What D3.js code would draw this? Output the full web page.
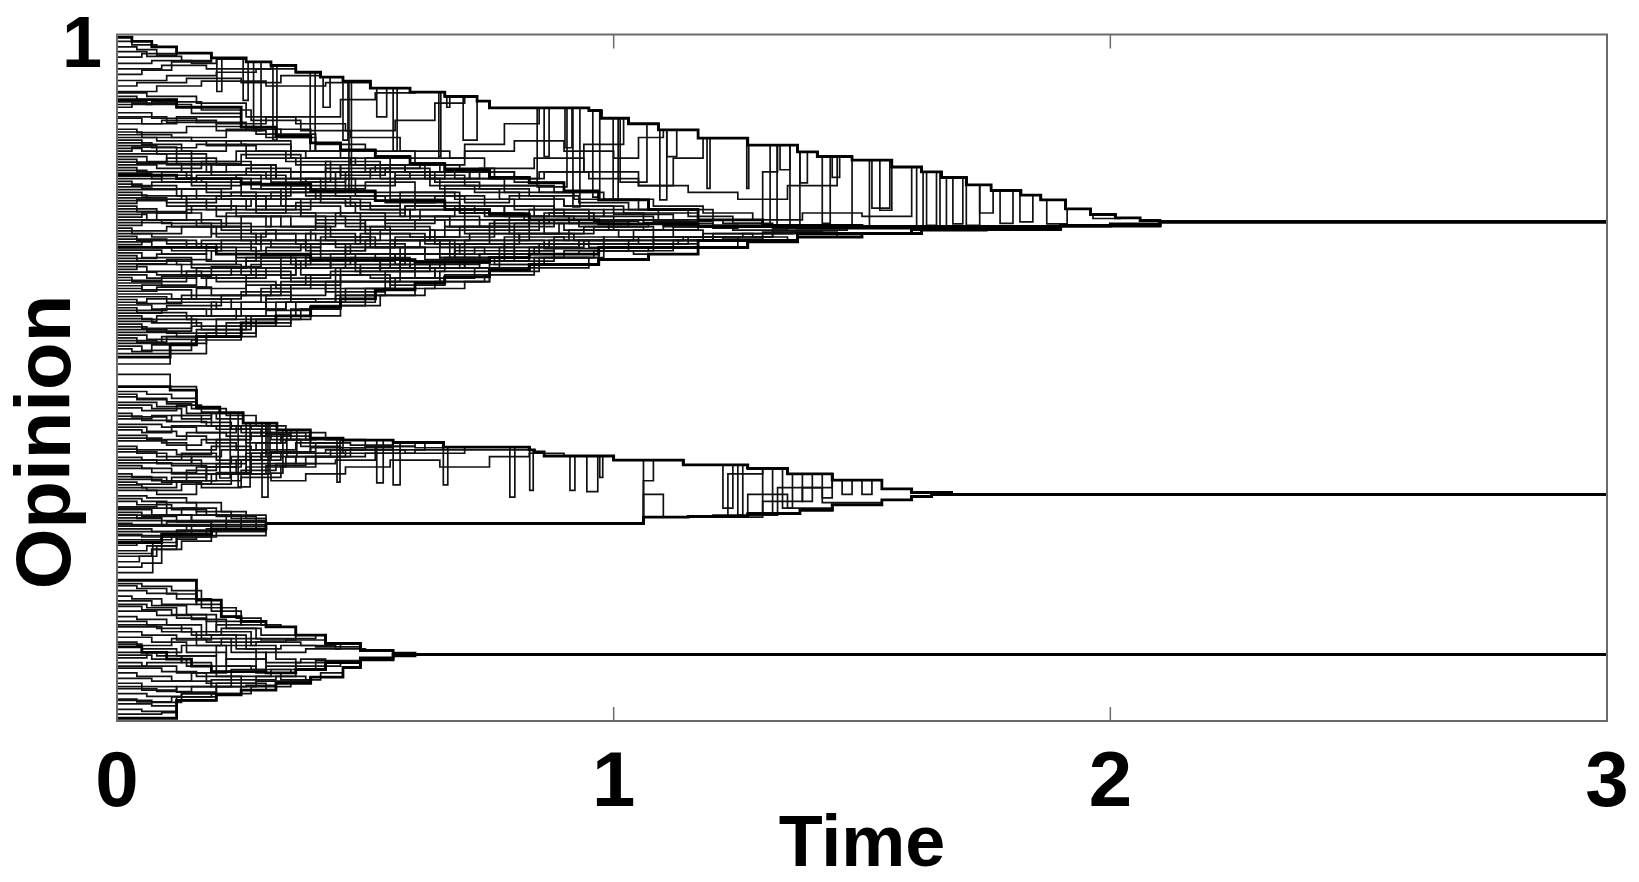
<!DOCTYPE html>
<html><head><meta charset="utf-8">
<script src="https://cdn.jsdelivr.net/npm/d3@7"></script>
<style>body{margin:0;background:#fff}</style>
</head><body><svg id="c" width="1639" height="882"></svg>
<script>
// ---------------- data ----------------
const xTicks=[0,1,2,3];
const xTickLabels=["0","1","2","3"];
const yTickValues=[1];
const yTickLabels=["1"];
const xTitle="Time", yTitle="Opinion";

// cluster backbone trajectories [time, opinion] (step functions)
const B1=[[0,0.996],[0.03,0.99],[0.07,0.982],[0.12,0.973],[0.19,0.966],[0.26,0.96],[0.31,0.955],[0.36,0.945],[0.41,0.938],[0.455,0.932],[0.51,0.922],[0.59,0.916],[0.66,0.91],[0.725,0.903],[0.75,0.893],[0.95,0.889],[0.975,0.878],[1.03,0.87],[1.09,0.861],[1.17,0.849],[1.27,0.839],[1.37,0.829],[1.41,0.822],[1.48,0.817],[1.56,0.807],[1.62,0.8],[1.66,0.792],[1.71,0.781],[1.76,0.773],[1.82,0.766],[1.86,0.759],[1.91,0.746],[1.96,0.738],[2.01,0.733],[2.06,0.729],[2.1,0.727]];
const B2=[[0,0.905],[0.12,0.894],[0.25,0.865],[0.32,0.852],[0.39,0.842],[0.45,0.832],[0.52,0.822],[0.59,0.812],[0.66,0.803],[0.75,0.792],[0.83,0.784],[0.9,0.772],[0.97,0.759],[1.07,0.745],[1.17,0.73],[1.3,0.722],[1.5,0.72],[1.9,0.722],[2.1,0.727]];
const T3=[[0,0.53],[0.107,0.548],[0.16,0.56],[0.25,0.58],[0.32,0.59],[0.39,0.603],[0.45,0.615],[0.52,0.628],[0.6,0.638],[0.66,0.647],[0.75,0.657],[0.83,0.665],[0.97,0.672],[1.07,0.68],[1.17,0.69],[1.27,0.698],[1.37,0.705],[1.5,0.71],[1.62,0.715],[1.75,0.718],[1.9,0.721],[2.0,0.724],[2.1,0.727]];
const T4=[[0,0.795],[0.12,0.79],[0.25,0.782],[0.39,0.772],[0.52,0.758],[0.66,0.745],[0.75,0.738],[0.83,0.73],[0.97,0.724],[1.17,0.72],[1.37,0.718],[1.6,0.719],[1.9,0.722],[2.1,0.727]];
const T5=[[0,0.69],[0.2,0.68],[0.39,0.672],[0.6,0.668],[0.75,0.675],[0.83,0.68],[0.97,0.69],[1.17,0.7],[1.37,0.71],[1.6,0.716],[1.9,0.721],[2.1,0.727]];
const M1=[[0,0.487],[0.107,0.482],[0.16,0.457],[0.207,0.449],[0.254,0.434],[0.322,0.424],[0.389,0.412],[0.455,0.409],[0.556,0.406],[0.657,0.399],[0.83,0.395],[0.84,0.392],[0.86,0.386],[1.0,0.38],[1.14,0.373],[1.27,0.368],[1.35,0.36],[1.44,0.351],[1.54,0.338],[1.6,0.333],[1.68,0.33]];
const M2=[[0,0.26],[0.09,0.272],[0.19,0.28],[0.3,0.288],[1.06,0.297],[1.15,0.298],[1.27,0.302],[1.375,0.307],[1.44,0.315],[1.54,0.322],[1.6,0.327],[1.64,0.33]];
const L1=[[0,0.205],[0.147,0.205],[0.16,0.176],[0.21,0.152],[0.25,0.145],[0.3,0.137],[0.36,0.125],[0.42,0.113],[0.49,0.103],[0.556,0.099],[0.6,0.097]];
const L2=[[0,0.004],[0.113,0.004],[0.12,0.03],[0.2,0.038],[0.25,0.045],[0.32,0.055],[0.39,0.064],[0.455,0.078],[0.49,0.089],[0.556,0.095],[0.6,0.097]];
const L3=[[0,0.108],[0.05,0.1],[0.1,0.09],[0.15,0.08],[0.19,0.072],[0.3,0.07],[0.36,0.075],[0.42,0.085],[0.49,0.092],[0.556,0.097]];

// agents: [backbone joined, join time, start opinion, t1, x1, t2, x2, ...]
const topAgents=[
["B1",0.08,0.99,0.03,0.985],
["B1",0.12,0.982,0.04,0.978,0.08,0.97],
["B1",0.19,0.975,0.06,0.968,0.13,0.962],
["B1",0.12,0.967,0.05,0.972],
["B1",0.26,0.958,0.07,0.962,0.15,0.958,0.2,0.964],
["B1",0.31,0.95,0.09,0.955,0.18,0.95],
["B1",0.19,0.942,0.05,0.948,0.11,0.96],
["B1",0.36,0.933,0.1,0.94,0.2,0.945,0.28,0.95],
["B1",0.41,0.925,0.04,0.93,0.14,0.936,0.25,0.93,0.33,0.94],
["B1",0.51,0.917,0.08,0.925,0.17,0.932,0.3,0.925,0.42,0.93],
["B1",0.7,0.915,0.06,0.91,0.16,0.9,0.26,0.88,0.36,0.87,0.46,0.86,0.56,0.875,0.64,0.9],
["B2",0.12,0.91,0.04,0.905,0.08,0.9],
["B2",0.25,0.902,0.06,0.898,0.15,0.885],
["B2",0.8,0.898,0.07,0.902,0.17,0.89,0.27,0.875,0.37,0.86,0.47,0.85,0.57,0.83,0.67,0.82,0.74,0.8],
["B2",0.1,0.894,0.03,0.9],
["B2",0.39,0.886,0.07,0.878,0.16,0.872,0.26,0.862,0.33,0.85],
["B1",1.1,0.88,0.1,0.872,0.2,0.86,0.3,0.85,0.4,0.84,0.5,0.83,0.6,0.82,0.7,0.83,0.8,0.845,0.9,0.83,1.0,0.82,1.05,0.85],
["B2",0.25,0.878,0.05,0.87,0.12,0.88],
["B1",0.6,0.87,0.09,0.875,0.2,0.87,0.3,0.88,0.45,0.905,0.52,0.915],
["B2",0.52,0.862,0.04,0.857,0.14,0.866,0.28,0.855,0.4,0.83],
["B1",1.45,0.858,0.05,0.85,0.15,0.845,0.25,0.84,0.35,0.83,0.45,0.82,0.55,0.81,0.65,0.8,0.75,0.79,0.85,0.8,0.95,0.79,1.05,0.78,1.15,0.77,1.25,0.76,1.35,0.78],
["B2",0.39,0.854,0.11,0.85,0.22,0.862],
["B1",1.6,0.85,0.08,0.845,0.18,0.838,0.28,0.83,0.38,0.82,0.48,0.81,0.58,0.8,0.68,0.79,0.78,0.78,0.88,0.77,0.98,0.76,1.08,0.75,1.18,0.74,1.28,0.73,1.38,0.74,1.5,0.735],
["B2",0.66,0.846,0.05,0.84,0.13,0.83,0.22,0.845,0.35,0.82,0.47,0.81,0.58,0.8],
["T4",1.12,0.842,0.07,0.835,0.16,0.84,0.26,0.82,0.36,0.81,0.45,0.795,0.54,0.805,0.63,0.78,0.72,0.77,0.81,0.76,0.9,0.75,1.0,0.738],
["T4",1.0,0.838,0.08,0.826,0.18,0.8,0.3,0.79,0.42,0.805,0.55,0.77,0.68,0.76,0.8,0.745,0.9,0.735],
["B2",0.9,0.834,0.05,0.83,0.15,0.815,0.24,0.83,0.34,0.815,0.43,0.8,0.52,0.81,0.62,0.79,0.71,0.8,0.8,0.785],
["B1",0.85,0.83,0.03,0.836,0.12,0.812,0.25,0.825,0.37,0.8,0.5,0.82,0.6,0.81,0.7,0.84,0.78,0.87],
["T5",1.22,0.826,0.1,0.81,0.19,0.795,0.29,0.78,0.38,0.765,0.47,0.75,0.57,0.735,0.67,0.72,0.76,0.73,0.86,0.71,0.96,0.72,1.08,0.705],
["T4",0.83,0.822,0.06,0.815,0.15,0.79,0.27,0.775,0.38,0.79,0.48,0.765,0.6,0.75,0.72,0.74],
["T4",1.3,0.818,0.04,0.812,0.13,0.8,0.22,0.81,0.32,0.79,0.41,0.775,0.5,0.785,0.6,0.765,0.7,0.755,0.79,0.765,0.88,0.745,0.98,0.735,1.08,0.728,1.2,0.722],
["B2",0.97,0.814,0.1,0.82,0.2,0.81,0.32,0.8,0.44,0.78,0.56,0.795,0.7,0.78,0.85,0.77],
["B1",1.02,0.81,0.08,0.805,0.17,0.815,0.27,0.8,0.37,0.785,0.46,0.8,0.56,0.79,0.66,0.805,0.76,0.79,0.86,0.8,0.94,0.84],
["T4",1.17,0.806,0.04,0.8,0.14,0.79,0.24,0.795,0.34,0.76,0.46,0.75,0.57,0.77,0.69,0.74,0.82,0.73,0.95,0.74,1.06,0.726],
["T4",0.92,0.802,0.06,0.795,0.15,0.78,0.25,0.765,0.35,0.78,0.44,0.765,0.54,0.755,0.64,0.765,0.74,0.75,0.84,0.735],
["T4",0.52,0.798,0.07,0.79,0.17,0.785,0.29,0.775,0.4,0.76],
["T3",1.25,0.794,0.09,0.785,0.18,0.77,0.28,0.75,0.37,0.735,0.46,0.72,0.55,0.7,0.65,0.69,0.74,0.68,0.84,0.69,0.94,0.7,1.05,0.695,1.15,0.705],
["B2",1.17,0.79,0.09,0.8,0.19,0.81,0.31,0.785,0.43,0.8,0.53,0.79,0.65,0.775,0.77,0.76,0.9,0.75,1.02,0.74],
["T4",1.4,0.786,0.03,0.78,0.12,0.775,0.21,0.76,0.31,0.77,0.41,0.755,0.51,0.745,0.6,0.755,0.69,0.74,0.78,0.75,0.88,0.735,0.98,0.745,1.09,0.73,1.22,0.725,1.32,0.718],
["T5",0.97,0.782,0.05,0.775,0.16,0.76,0.28,0.74,0.4,0.725,0.5,0.71,0.62,0.695,0.75,0.7,0.86,0.688],
["B2",1.3,0.778,0.07,0.785,0.16,0.795,0.26,0.805,0.35,0.79,0.45,0.81,0.55,0.8,0.64,0.785,0.73,0.775,0.83,0.765,0.93,0.755,1.03,0.745,1.15,0.735,1.24,0.725],
["T4",1.37,0.774,0.12,0.765,0.23,0.77,0.33,0.75,0.45,0.735,0.58,0.75,0.7,0.73,0.83,0.745,0.95,0.73,1.1,0.722,1.25,0.72],
["T5",0.88,0.77,0.05,0.765,0.14,0.75,0.24,0.735,0.33,0.72,0.43,0.705,0.52,0.69,0.62,0.68,0.72,0.69,0.8,0.68],
["B1",1.33,0.766,0.06,0.76,0.18,0.745,0.3,0.76,0.41,0.77,0.55,0.76,0.66,0.78,0.78,0.77,0.92,0.76,1.05,0.745,1.2,0.73,1.3,0.8],
["T4",1.05,0.762,0.1,0.755,0.2,0.765,0.3,0.745,0.39,0.76,0.49,0.745,0.59,0.735,0.68,0.75,0.78,0.735,0.87,0.74,0.96,0.728],
["T3",1.37,0.758,0.1,0.75,0.2,0.735,0.3,0.72,0.42,0.7,0.53,0.715,0.64,0.695,0.78,0.705,0.9,0.7,1.05,0.705,1.2,0.71],
["B1",1.18,0.754,0.04,0.76,0.13,0.775,0.23,0.79,0.32,0.8,0.42,0.815,0.53,0.8,0.63,0.79,0.73,0.805,0.84,0.82,0.94,0.8,1.05,0.78,1.12,0.82],
["T4",0.66,0.75,0.04,0.742,0.14,0.76,0.26,0.745,0.36,0.755,0.48,0.74,0.58,0.75],
["T3",1.1,0.746,0.08,0.74,0.17,0.725,0.27,0.71,0.36,0.695,0.46,0.68,0.56,0.665,0.66,0.675,0.76,0.665,0.86,0.675,0.97,0.685,1.04,0.68],
["T5",1.17,0.742,0.08,0.73,0.21,0.715,0.32,0.7,0.44,0.69,0.56,0.7,0.68,0.68,0.8,0.69,0.93,0.7,1.08,0.695],
["T4",1.2,0.738,0.06,0.73,0.16,0.72,0.25,0.735,0.35,0.72,0.44,0.74,0.54,0.725,0.64,0.735,0.73,0.72,0.83,0.73,0.93,0.72,1.03,0.73,1.12,0.72],
["T4",0.97,0.734,0.05,0.74,0.15,0.75,0.27,0.76,0.37,0.74,0.49,0.73,0.61,0.745,0.74,0.735,0.86,0.725],
["T5",1.35,0.73,0.09,0.725,0.19,0.71,0.28,0.695,0.38,0.71,0.48,0.695,0.58,0.68,0.68,0.695,0.78,0.685,0.88,0.695,0.98,0.705,1.08,0.7,1.18,0.71,1.28,0.705],
["B2",0.83,0.726,0.11,0.72,0.22,0.74,0.34,0.77,0.46,0.79,0.59,0.8,0.71,0.79],
["B2",0.75,0.722,0.05,0.73,0.14,0.745,0.23,0.76,0.33,0.775,0.42,0.79,0.51,0.805,0.61,0.81,0.69,0.8],
["T5",0.75,0.718,0.03,0.71,0.13,0.72,0.25,0.7,0.38,0.685,0.5,0.69,0.62,0.672],
["T4",1.15,0.714,0.1,0.72,0.2,0.705,0.3,0.715,0.4,0.73,0.5,0.715,0.6,0.73,0.7,0.71,0.8,0.725,0.9,0.715,1.0,0.73,1.1,0.72],
["T4",1.27,0.71,0.07,0.705,0.19,0.72,0.31,0.735,0.42,0.715,0.54,0.73,0.66,0.72,0.79,0.735,0.91,0.725,1.03,0.73,1.15,0.72],
["T3",1.45,0.706,0.04,0.7,0.14,0.69,0.24,0.675,0.33,0.66,0.43,0.67,0.53,0.655,0.63,0.665,0.73,0.68,0.83,0.69,0.93,0.695,1.03,0.7,1.14,0.705,1.26,0.71,1.36,0.712],
["T3",0.97,0.702,0.1,0.695,0.2,0.68,0.3,0.69,0.41,0.67,0.53,0.66,0.65,0.675,0.77,0.67,0.88,0.68],
["T5",1.02,0.698,0.07,0.69,0.17,0.7,0.27,0.685,0.37,0.695,0.47,0.68,0.57,0.69,0.67,0.675,0.77,0.69,0.87,0.7,0.95,0.69],
["T5",0.52,0.694,0.05,0.7,0.16,0.69,0.28,0.675,0.39,0.68],
["T4",1.35,0.69,0.11,0.685,0.21,0.7,0.31,0.69,0.41,0.705,0.51,0.69,0.61,0.7,0.71,0.71,0.81,0.7,0.91,0.715,1.01,0.705,1.12,0.72,1.24,0.715],
["T4",1.07,0.686,0.09,0.68,0.18,0.695,0.29,0.71,0.4,0.7,0.51,0.72,0.63,0.705,0.76,0.72,0.88,0.73,0.99,0.72],
["T3",0.95,0.682,0.05,0.675,0.15,0.665,0.25,0.655,0.35,0.64,0.45,0.65,0.55,0.64,0.65,0.655,0.75,0.665,0.85,0.675],
["T3",1.17,0.678,0.04,0.67,0.15,0.66,0.26,0.67,0.37,0.65,0.49,0.66,0.6,0.645,0.72,0.66,0.84,0.675,0.96,0.685,1.08,0.69],
["T5",1.5,0.674,0.08,0.68,0.18,0.67,0.28,0.68,0.38,0.665,0.48,0.68,0.58,0.67,0.68,0.685,0.78,0.695,0.88,0.705,0.98,0.695,1.08,0.705,1.2,0.7,1.3,0.712,1.42,0.71],
["T5",0.83,0.67,0.12,0.665,0.24,0.68,0.35,0.665,0.47,0.675,0.59,0.66,0.7,0.67],
["T4",0.8,0.666,0.1,0.672,0.19,0.685,0.29,0.7,0.39,0.715,0.49,0.73,0.59,0.745,0.69,0.74],
["T4",1.47,0.662,0.06,0.655,0.17,0.645,0.3,0.66,0.43,0.68,0.55,0.7,0.67,0.69,0.8,0.71,0.92,0.7,1.04,0.715,1.18,0.705,1.32,0.715],
["T3",1.3,0.658,0.04,0.665,0.13,0.65,0.23,0.66,0.33,0.645,0.43,0.655,0.53,0.665,0.63,0.66,0.73,0.67,0.83,0.68,0.93,0.685,1.03,0.695,1.13,0.7,1.22,0.702],
["T3",0.66,0.654,0.08,0.65,0.2,0.64,0.32,0.63,0.45,0.64,0.55,0.635],
["T5",0.72,0.65,0.06,0.645,0.16,0.66,0.26,0.675,0.36,0.66,0.46,0.67,0.56,0.68,0.65,0.675],
["T5",1.27,0.646,0.03,0.64,0.14,0.655,0.25,0.65,0.36,0.67,0.48,0.655,0.6,0.67,0.73,0.68,0.85,0.695,0.98,0.685,1.12,0.7],
["T4",1.25,0.642,0.09,0.648,0.19,0.662,0.29,0.678,0.39,0.695,0.49,0.71,0.59,0.705,0.69,0.72,0.79,0.71,0.89,0.725,0.99,0.715,1.1,0.725,1.2,0.718],
["T3",0.83,0.638,0.09,0.632,0.19,0.62,0.31,0.635,0.42,0.625,0.54,0.64,0.66,0.65,0.75,0.66],
["T3",0.85,0.634,0.05,0.628,0.15,0.615,0.25,0.625,0.35,0.615,0.45,0.63,0.55,0.645,0.65,0.64,0.75,0.655],
["T4",0.97,0.63,0.05,0.635,0.16,0.65,0.27,0.665,0.39,0.685,0.5,0.7,0.63,0.715,0.75,0.725,0.87,0.73],
["T5",1.42,0.626,0.08,0.632,0.18,0.645,0.28,0.66,0.38,0.675,0.48,0.665,0.58,0.68,0.68,0.67,0.78,0.685,0.88,0.675,0.98,0.69,1.08,0.7,1.2,0.705,1.32,0.712],
["T3",0.52,0.622,0.11,0.615,0.23,0.6,0.34,0.61,0.45,0.62],
["T3",0.6,0.618,0.1,0.61,0.2,0.6,0.3,0.615,0.4,0.61,0.5,0.63],
["T5",1.07,0.614,0.04,0.608,0.13,0.62,0.26,0.635,0.38,0.65,0.51,0.645,0.64,0.66,0.77,0.675,0.9,0.685],
["T4",1.06,0.61,0.06,0.615,0.16,0.63,0.26,0.65,0.36,0.67,0.46,0.69,0.56,0.705,0.66,0.72,0.76,0.73,0.86,0.74,0.96,0.73],
["T3",0.39,0.606,0.07,0.6,0.18,0.59,0.3,0.598],
["T3",0.95,0.602,0.04,0.595,0.14,0.585,0.24,0.6,0.34,0.61,0.44,0.62,0.54,0.63,0.64,0.64,0.74,0.65,0.84,0.66],
["T4",1.17,0.598,0.1,0.605,0.21,0.62,0.33,0.64,0.44,0.66,0.57,0.68,0.69,0.695,0.81,0.71,0.94,0.72,1.06,0.715],
["T5",0.9,0.594,0.09,0.6,0.19,0.61,0.29,0.63,0.39,0.65,0.49,0.665,0.59,0.66,0.69,0.67,0.8,0.68],
["T3",0.75,0.59,0.05,0.585,0.16,0.575,0.27,0.59,0.39,0.605,0.5,0.62,0.62,0.63,0.7,0.64],
["T3",0.45,0.586,0.07,0.58,0.17,0.57,0.27,0.585,0.37,0.6],
["T5",0.66,0.582,0.08,0.59,0.19,0.6,0.3,0.62,0.42,0.64,0.54,0.655],
["T4",1.0,0.578,0.05,0.572,0.15,0.59,0.25,0.61,0.35,0.635,0.45,0.66,0.55,0.68,0.65,0.7,0.75,0.715,0.85,0.73,0.93,0.725],
["T3",0.25,0.574,0.06,0.568,0.15,0.575],
["T3",0.32,0.57,0.1,0.565,0.2,0.575],
["T3",0.52,0.566,0.12,0.56,0.22,0.58,0.35,0.6,0.45,0.61],
["T5",0.7,0.562,0.06,0.556,0.16,0.57,0.26,0.59,0.36,0.61,0.46,0.63,0.56,0.645,0.64,0.66],
["T3",0.19,0.558,0.04,0.552,0.1,0.56],
["T3",0.28,0.554,0.08,0.55,0.18,0.565],
["T4",0.83,0.55,0.09,0.56,0.2,0.585,0.32,0.61,0.44,0.64,0.57,0.67,0.7,0.7],
["T3",0.6,0.546,0.05,0.54,0.15,0.555,0.25,0.575,0.35,0.59,0.45,0.605,0.53,0.62],
["T3",0.12,0.542,0.03,0.538,0.07,0.548],
["T3",0.39,0.535,0.107,0.535,0.18,0.56,0.28,0.585],
["T3",0.16,0.52,0.107,0.55]
];
const midAgents=[
["M1",0.16,0.505,0.107,0.487],
["M1",0.16,0.48,0.06,0.476,0.11,0.47],
["M1",0.5,0.476,0.04,0.47,0.1,0.465,0.16,0.455,0.22,0.445,0.28,0.43,0.34,0.42,0.42,0.41],
["M1",0.207,0.472,0.04,0.468,0.1,0.462,0.15,0.455],
["M1",0.254,0.464,0.08,0.458,0.14,0.448,0.2,0.44],
["M1",0.6,0.46,0.07,0.455,0.13,0.445,0.19,0.43,0.25,0.42,0.31,0.41,0.37,0.4,0.45,0.39,0.52,0.4],
["M1",0.207,0.456,0.05,0.452,0.12,0.46,0.17,0.45],
["M1",0.322,0.448,0.03,0.443,0.1,0.436,0.18,0.43,0.25,0.425],
["M1",0.35,0.444,0.05,0.438,0.11,0.445,0.17,0.435,0.23,0.425,0.29,0.415],
["M1",0.254,0.44,0.07,0.445,0.13,0.44,0.19,0.448],
["M1",0.389,0.432,0.09,0.428,0.16,0.42,0.24,0.43,0.3,0.418,0.35,0.41],
["M1",0.7,0.428,0.06,0.422,0.12,0.415,0.18,0.405,0.24,0.395,0.3,0.385,0.36,0.375,0.44,0.38,0.52,0.39,0.6,0.395],
["M1",0.322,0.424,0.05,0.42,0.11,0.43,0.2,0.425,0.27,0.43],
["M1",0.455,0.416,0.06,0.41,0.14,0.42,0.22,0.415,0.3,0.42,0.38,0.41],
["M1",0.45,0.412,0.09,0.405,0.14,0.395,0.2,0.41,0.27,0.42,0.33,0.41,0.39,0.405],
["M1",0.389,0.408,0.1,0.402,0.17,0.41,0.26,0.405,0.33,0.415],
["M1",0.556,0.4,0.04,0.395,0.12,0.388,0.19,0.4,0.27,0.395,0.36,0.405,0.47,0.402],
["M1",0.9,0.396,0.04,0.39,0.1,0.38,0.17,0.37,0.24,0.36,0.31,0.35,0.38,0.36,0.46,0.37,0.55,0.38,0.65,0.37,0.75,0.385,0.83,0.39],
["M1",0.455,0.392,0.08,0.385,0.15,0.375,0.23,0.385,0.31,0.392,0.4,0.405],
["M1",0.657,0.384,0.05,0.38,0.13,0.39,0.2,0.38,0.29,0.39,0.39,0.398,0.5,0.4,0.6,0.398],
["M1",0.4,0.38,0.08,0.375,0.15,0.385,0.21,0.395,0.28,0.405,0.34,0.41],
["M1",0.556,0.376,0.11,0.372,0.18,0.36,0.26,0.37,0.34,0.385,0.43,0.395],
["M1",0.62,0.372,0.05,0.368,0.11,0.36,0.18,0.35,0.25,0.365,0.32,0.375,0.4,0.385,0.5,0.39,0.57,0.395],
["M1",0.389,0.368,0.07,0.362,0.16,0.37,0.24,0.38,0.31,0.39],
["M1",0.83,0.36,0.03,0.355,0.1,0.35,0.18,0.36,0.27,0.375,0.36,0.385,0.46,0.395,0.58,0.39,0.7,0.395],
["M1",0.3,0.356,0.07,0.35,0.14,0.365,0.2,0.375,0.26,0.39],
["M1",0.455,0.352,0.09,0.348,0.17,0.34,0.25,0.355,0.33,0.37,0.4,0.39],
["M1",0.5,0.348,0.04,0.345,0.11,0.355,0.18,0.37,0.25,0.38,0.33,0.39,0.42,0.395],
["M1",0.322,0.344,0.05,0.34,0.12,0.35,0.2,0.362,0.27,0.39],
["M1",0.26,0.34,0.06,0.336,0.13,0.345,0.19,0.36],
["M1",0.556,0.336,0.08,0.33,0.16,0.345,0.23,0.36,0.3,0.372,0.38,0.385,0.47,0.398],
["M2",0.3,0.328,0.06,0.325,0.14,0.318,0.21,0.305,0.26,0.295],
["M2",0.22,0.324,0.05,0.32,0.1,0.31,0.16,0.3],
["M2",0.25,0.32,0.04,0.315,0.11,0.308,0.18,0.3],
["M2",0.3,0.312,0.08,0.318,0.16,0.305,0.23,0.295],
["M2",0.28,0.308,0.07,0.3,0.13,0.31,0.2,0.298],
["M2",0.19,0.304,0.05,0.298,0.12,0.29],
["M2",0.15,0.3,0.04,0.295,0.09,0.285],
["M2",0.25,0.296,0.09,0.3,0.15,0.292],
["M2",0.19,0.288,0.03,0.284,0.1,0.29],
["M2",0.3,0.28,0.07,0.276,0.14,0.284,0.22,0.29],
["M2",0.25,0.272,0.05,0.268,0.12,0.278],
["M2",0.19,0.264,0.09,0.268],
["M2",0.26,0.26,0.05,0.264,0.11,0.272,0.18,0.28],
["M2",0.3,0.256,0.04,0.26,0.12,0.268,0.2,0.278],
["M2",0.12,0.248,0.06,0.255],
["M2",0.16,0.244,0.07,0.25,0.12,0.265],
["M2",0.19,0.24,0.07,0.25,0.13,0.262],
["M2",0.12,0.232,0.045,0.24,0.08,0.255],
["M2",0.09,0.224,0.05,0.23],
["M2",0.09,0.216,0.072,0.26],
["M1",1.06,0.31,0.1,0.3,0.3,0.288],
["M1",1.08,0.3,0.15,0.29,0.3,0.288,1.06,0.35],
["M2",1.1,0.292,0.3,0.288,1.06,0.33],
["M1",1.3,0.286,0.3,0.288,1.06,0.297,1.23,0.36],
["M2",1.44,0.284,0.3,0.288,1.06,0.297,1.27,0.33,1.35,0.31],
["M1",1.44,0.276,0.3,0.288,1.06,0.297,1.3,0.32,1.38,0.34],
["M2",1.54,0.27,0.3,0.288,1.06,0.297,1.2,0.3,1.33,0.34,1.42,0.318]
];
const lowAgents=[
["L1",0.33,0.2,0.05,0.196,0.11,0.19,0.17,0.165,0.24,0.15,0.29,0.14],
["L1",0.21,0.197,0.04,0.193,0.1,0.185,0.16,0.17],
["L1",0.25,0.19,0.06,0.186,0.12,0.178,0.19,0.16],
["L1",0.16,0.182,0.03,0.178,0.09,0.17],
["L3",0.36,0.175,0.07,0.168,0.14,0.155,0.2,0.13,0.27,0.11,0.32,0.09],
["L3",0.28,0.17,0.06,0.165,0.12,0.15,0.18,0.125,0.24,0.105],
["L1",0.3,0.167,0.05,0.162,0.11,0.155,0.18,0.145,0.25,0.14],
["L1",0.36,0.16,0.08,0.154,0.15,0.148,0.22,0.135,0.29,0.125],
["L3",0.42,0.152,0.04,0.148,0.1,0.14,0.17,0.12,0.23,0.1,0.3,0.085,0.37,0.09],
["L1",0.25,0.145,0.06,0.14,0.13,0.13,0.2,0.14],
["L1",0.4,0.14,0.08,0.135,0.15,0.125,0.21,0.135,0.28,0.12,0.35,0.12],
["L2",0.39,0.137,0.09,0.13,0.16,0.11,0.22,0.08,0.28,0.07,0.33,0.06],
["L1",0.42,0.13,0.05,0.125,0.12,0.118,0.19,0.125,0.26,0.115,0.34,0.118],
["L3",0.3,0.122,0.07,0.115,0.14,0.1,0.22,0.09],
["L1",0.49,0.115,0.04,0.11,0.11,0.12,0.18,0.115,0.26,0.105,0.33,0.11,0.4,0.108],
["L3",0.35,0.112,0.05,0.105,0.12,0.095,0.2,0.08,0.27,0.075],
["L3",0.19,0.1,0.08,0.095,0.13,0.085],
["L2",0.3,0.096,0.07,0.09,0.14,0.08,0.2,0.065,0.25,0.055],
["L1",0.36,0.092,0.06,0.1,0.13,0.11,0.21,0.12,0.29,0.118],
["L2",0.25,0.085,0.05,0.08,0.12,0.07,0.18,0.055],
["L1",0.5,0.08,0.06,0.085,0.13,0.095,0.2,0.11,0.28,0.115,0.37,0.11,0.44,0.105],
["L3",0.42,0.077,0.09,0.072,0.16,0.065,0.23,0.075,0.3,0.08,0.36,0.085],
["L2",0.32,0.07,0.04,0.065,0.11,0.058,0.19,0.05,0.26,0.052],
["L1",0.45,0.062,0.07,0.058,0.15,0.07,0.22,0.09,0.3,0.1,0.38,0.105],
["L2",0.2,0.055,0.05,0.05,0.12,0.042],
["L2",0.38,0.05,0.05,0.045,0.12,0.05,0.19,0.06,0.26,0.06,0.32,0.065],
["L3",0.49,0.047,0.08,0.043,0.15,0.05,0.23,0.065,0.31,0.075,0.4,0.088],
["L2",0.25,0.04,0.06,0.036,0.13,0.04],
["L2",0.455,0.032,0.04,0.028,0.11,0.035,0.19,0.04,0.27,0.05,0.35,0.06,0.41,0.07],
["L3",0.45,0.03,0.07,0.027,0.13,0.04,0.2,0.055,0.28,0.065,0.36,0.08],
["L2",0.12,0.025,0.07,0.022],
["L2",0.39,0.017,0.05,0.014,0.12,0.035,0.2,0.05,0.28,0.058],
["L2",0.12,0.01,0.09,0.012]
];
// excursions below a backbone: [start time, end time, lowest opinion]
const spikesB1=[[0.201,0.211,0.917],[0.254,0.264,0.904],[0.275,0.29,0.86],[0.314,0.322,0.846],[0.389,0.399,0.83],[0.415,0.429,0.894],[0.455,0.465,0.846],[0.467,0.472,0.77],[0.523,0.543,0.88],[0.556,0.564,0.83],[0.648,0.652,0.822],[0.664,0.67,0.894],[0.697,0.725,0.846],[0.846,0.906,0.778],[0.86,0.87,0.822],[0.902,0.916,0.835],[0.918,0.932,0.749],[0.958,0.972,0.763],[0.999,1.009,0.759],[1.013,1.067,0.785],[1.093,1.107,0.759],[1.107,1.127,0.822],[1.188,1.194,0.776],[1.268,1.272,0.776],[1.315,1.329,0.72],[1.335,1.355,0.803],[1.355,1.375,0.722],[1.375,1.39,0.784],[1.42,1.436,0.725],[1.44,1.455,0.792],[1.48,1.515,0.72],[1.52,1.556,0.747],[1.536,1.56,0.744],[1.61,1.623,0.72],[1.63,1.65,0.722],[1.657,1.67,0.72],[1.683,1.703,0.724],[1.71,1.737,0.722],[1.737,1.764,0.74],[1.778,1.804,0.725],[1.818,1.844,0.727],[1.872,1.913,0.724],[1.965,2.02,0.732]];
const spikesM1=[[0.207,0.228,0.354],[0.244,0.268,0.341],[0.292,0.304,0.326],[0.308,0.334,0.361],[0.342,0.362,0.385],[0.443,0.449,0.348],[0.523,0.536,0.347],[0.556,0.57,0.344],[0.657,0.666,0.344],[0.791,0.801,0.326],[0.831,0.838,0.336],[0.912,0.922,0.336],[0.946,0.968,0.334],[0.972,0.978,0.355],[1.22,1.24,0.31],[1.25,1.26,0.3],[1.3,1.32,0.303],[1.34,1.36,0.31],[1.38,1.4,0.32],[1.42,1.44,0.325],[1.46,1.48,0.33],[1.5,1.52,0.33]];

// ---------------- drawing ----------------
const backbones={B1,B2,T3,T4,T5,M1,M2,L1,L2,L3};
const L=117,R=1607,T=34.5,Bt=721;
const x=d3.scaleLinear().domain([0,3]).range([L,R]);
const y=d3.scaleLinear().domain([0,1]).range([Bt,T]);
const svg=d3.select("#c");
svg.append("defs").append("clipPath").attr("id","clip").append("rect")
  .attr("x",L).attr("y",T).attr("width",R-L).attr("height",Bt-T);

function valAt(bb,t){let v=bb[0][1];for(const p of bb){if(p[0]<=t+1e-9)v=p[1];else break;}return v;}
function agentPath(a){
  const bb=backbones[a[0]],tj=a[1];
  const pts=[[0,a[2]]];
  for(let i=3;i<a.length;i+=2)pts.push([a[i],a[i+1]]);
  pts.push([tj,valAt(bb,tj)]);
  for(const p of bb)if(p[0]>tj)pts.push(p);
  pts.push([3,bb[bb.length-1][1]]);
  return pts;
}
function spikePath(bb,s){return [[s[0],valAt(bb,s[0])],[s[0],s[2]],[s[1],s[2]],[s[1],valAt(bb,s[1])]];}
const stepLine=d3.line().x(d=>x(d[0])).y(d=>y(d[1])).curve(d3.curveStepAfter);
const polyLine=d3.line().x(d=>x(d[0])).y(d=>y(d[1]));

const g=svg.append("g").attr("clip-path","url(#clip)").attr("fill","none").attr("stroke-linejoin","miter");
const agents=topAgents.concat(midAgents,lowAgents);
g.selectAll("path.ag").data(agents).join("path").attr("class","ag")
  .attr("d",a=>stepLine(agentPath(a))).attr("stroke","#111").attr("stroke-width",1.7);
g.selectAll("path.sp1").data(spikesB1).join("path").attr("class","sp1")
  .attr("d",s=>polyLine(spikePath(B1,s))).attr("stroke","#111").attr("stroke-width",1.7);
g.selectAll("path.sp2").data(spikesM1).join("path").attr("class","sp2")
  .attr("d",s=>polyLine(spikePath(M1,s))).attr("stroke","#111").attr("stroke-width",1.7);
g.selectAll("path.bb").data(Object.values(backbones)).join("path").attr("class","bb")
  .attr("d",bb=>stepLine(bb.concat([[3,bb[bb.length-1][1]]]))).attr("stroke","#000").attr("stroke-width",2.8);

// frame and ticks
svg.append("rect").attr("x",L).attr("y",T).attr("width",R-L).attr("height",Bt-T)
  .attr("fill","none").attr("stroke","#6a6a6a").attr("stroke-width",2);
const ax=svg.append("g").attr("stroke","#6a6a6a").attr("stroke-width",1.5);
xTicks.slice(1,-1).forEach(t=>{
  ax.append("line").attr("x1",x(t)).attr("x2",x(t)).attr("y1",Bt).attr("y2",Bt-14);
  ax.append("line").attr("x1",x(t)).attr("x2",x(t)).attr("y1",T).attr("y2",T+14);
});
const font="'Liberation Sans', Arial, Helvetica, sans-serif";
xTicks.forEach((t,i)=>svg.append("text").attr("x",x(t)).attr("y",806).attr("text-anchor","middle")
  .attr("font-family",font).attr("font-weight","bold").attr("font-size",78).text(xTickLabels[i]));
yTickValues.forEach((v,i)=>svg.append("text").attr("x",102).attr("y",y(v)+32).attr("text-anchor","end")
  .attr("font-family",font).attr("font-weight","bold").attr("font-size",72).text(yTickLabels[i]));
svg.append("text").attr("x",(L+R)/2).attr("y",866).attr("text-anchor","middle")
  .attr("font-family",font).attr("font-weight","bold").attr("font-size",72).text(xTitle);
svg.append("text").attr("transform","translate(70,442) rotate(-90)").attr("text-anchor","middle")
  .attr("font-family",font).attr("font-weight","bold").attr("font-size",78).text(yTitle);
</script></body></html>
